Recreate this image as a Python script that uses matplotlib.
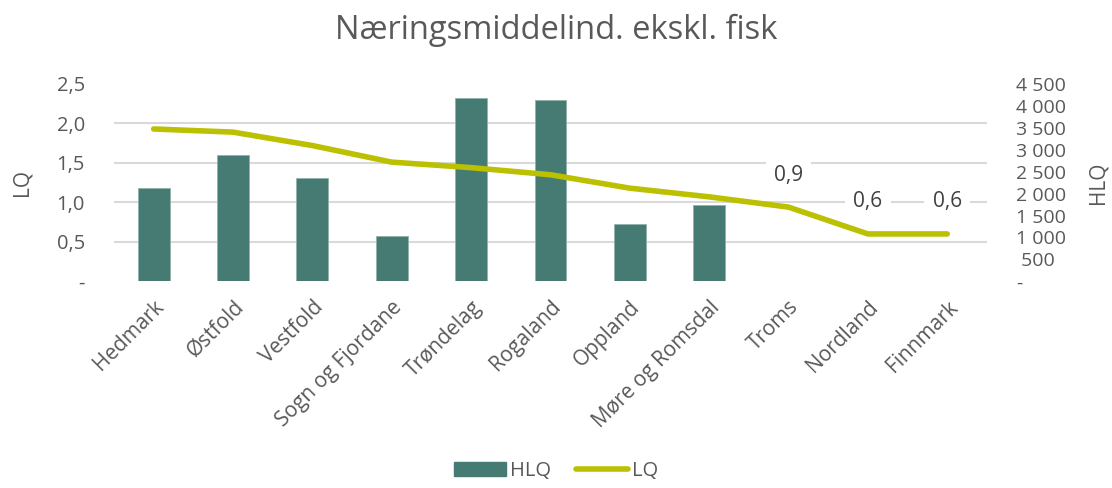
import matplotlib
matplotlib.use("Agg")
import matplotlib.pyplot as plt
import numpy as np
from matplotlib.lines import Line2D
from matplotlib.patches import Patch
from matplotlib.ticker import FixedLocator

plt.rcParams["font.family"] = ["Open Sans", "DejaVu Sans"]

regions = ["Hedmark", "Østfold", "Vestfold", "Sogn og Fjordane", "Trøndelag",
           "Rogaland", "Oppland", "Møre og Romsdal", "Troms", "Nordland", "Finnmark"]
hlq = [2136, 2871, 2364, 1030, 4182, 4143, 1309, 1734, np.nan, np.nan, np.nan]
lq = [1.93, 1.89, 1.72, 1.51, 1.44, 1.35, 1.18, 1.07, 0.94, 0.60, 0.60]
lq_labels = {8: "0,9", 9: "0,6", 10: "0,6"}

lq_ticks = [0, 0.5, 1.0, 1.5, 2.0, 2.5]
lq_ticklabels = ["-", "0,5", "1,0", "1,5", "2,0", "2,5"]
hlq_ticks = list(range(0, 4501, 500))
hlq_ticklabels = ["-", " 500", "1 000", "1 500", "2 000", "2 500", "3 000",
                  "3 500", "4 000", "4 500"]

BAR = "#467B73"
LINE = "#BBC000"
GREY = "#595959"
GRID = "#D9D9D9"

fig = plt.figure(figsize=(11.12, 4.88), dpi=100)
ax = fig.add_axes([0.1025, 0.4236, 0.785, 0.4043])
x = np.arange(len(regions))

ax.bar(x, hlq, width=0.4, color=BAR, edgecolor="#8FB3AC", linewidth=0.6, zorder=2)
ax.set_xlim(-0.5, len(regions) - 0.5)
ax.set_ylim(0, 4500)

# LQ line on a twin axis so it draws over the bars
ax_lq = ax.twinx()
ax_lq.plot(x, lq, color=LINE, linewidth=4, solid_capstyle="round", zorder=3)
ax_lq.set_ylim(0, 2.5)
for i, txt in lq_labels.items():
    ax_lq.annotate(txt, xy=(x[i], lq[i]), xytext=(0, 23), textcoords="offset points",
                   ha="center", va="center", fontsize=15, color="#404040",
                   bbox=dict(boxstyle="square,pad=0.4", fc="white", ec="none"))

# axis sides: HLQ right, LQ left
ax.yaxis.tick_right()
ax.yaxis.set_label_position("right")
ax_lq.yaxis.tick_left()
ax_lq.yaxis.set_label_position("left")

ax.set_yticks(hlq_ticks)
ax.set_yticklabels(hlq_ticklabels)
for lab in ax.get_yticklabels():
    lab.set_horizontalalignment("left")
ax_lq.set_yticks(lq_ticks)
ax_lq.set_yticklabels(lq_ticklabels)

# gridlines follow the LQ ticks, drawn on the bar axis so bars cover them
ax.yaxis.set_minor_locator(FixedLocator([t * 4500 / 2.5 for t in lq_ticks]))
ax.grid(which="minor", axis="y", color=GRID, linewidth=1.5, zorder=0)
ax.set_axisbelow(True)

ax.set_xticks(x)
ax.set_xticklabels(regions, rotation=45, ha="right", rotation_mode="anchor")

for a in (ax, ax_lq):
    for s in a.spines.values():
        s.set_visible(False)
    a.tick_params(axis="both", which="both", length=0, labelcolor=GREY, labelsize=15)
ax.tick_params(axis="y", labelsize=14, pad=21)
ax_lq.tick_params(axis="y", labelsize=14.5, pad=21)
ax.tick_params(axis="x", pad=11)

ax_lq.set_ylabel("LQ", fontsize=15, color=GREY, labelpad=17)
ax.set_ylabel("HLQ", fontsize=15, color=GREY, rotation=90, labelpad=15)

fig.text(0.5, 1 - 30 / 488, "Næringsmiddelind. ekskl. fisk", ha="center", va="center",
         fontsize=23.5, color=GREY)

handles = [Patch(facecolor=BAR, edgecolor=BAR),
           Line2D([0], [0], color=LINE, linewidth=4, solid_capstyle="round")]
fig.legend(handles, ["HLQ", "LQ"], loc="lower center", bbox_to_anchor=(0.5, -0.022),
           ncol=2, frameon=False, fontsize=14.5, labelcolor=GREY, handlelength=2.6,
           handletextpad=0.2, columnspacing=1.2)

fig.savefig("out.png", dpi=100)
